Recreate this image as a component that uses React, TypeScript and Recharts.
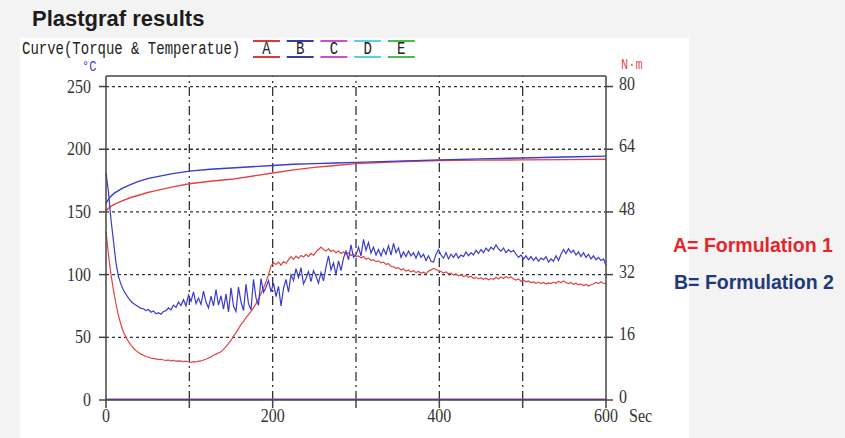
import React from 'react';
import { LineChart, Line, XAxis, YAxis, ReferenceLine } from 'recharts';

// temperature curves (°C, left axis)
const tempTime = [0, 5, 10, 20, 30, 40, 50, 60, 80, 100, 125, 150, 175, 200, 225, 250, 275, 300, 350, 400, 450, 500, 550, 600];
const tempA = [151, 154, 156, 159, 161.5, 163.5, 165.5, 167, 170, 172.5, 174.5, 176, 178.5, 181, 183.5, 185.5, 187, 188.5, 190, 191, 191.3, 191.5, 191.7, 192];
const tempB = [157, 162, 165, 169, 172, 174.5, 176.5, 178, 180.5, 182.5, 184, 185, 186, 187, 188, 188.5, 189, 189.5, 190.5, 191.5, 192.3, 193, 193.8, 194.5];

// torque curves (N·m, right axis), one reading every 3 s
const TORQUE_STEP = 3;
const torqueA = [
  43, 37, 32, 28, 24.5, 21.5, 19.2, 17.3, 16.0, 14.9,
  14.0, 13.2, 12.6, 12.1, 11.7, 11.4, 11.1, 10.9, 10.7, 10.6,
  10.5, 10.3, 10.4, 10.2, 10.1, 10.2, 10.0, 10.1, 9.9, 10.0,
  9.9, 9.8, 9.9, 9.7, 9.6, 9.8, 9.7, 9.9, 10.0, 10.2,
  10.4, 10.7, 11.0, 11.4, 11.7, 12.0, 12.3, 12.9, 13.6, 14.4,
  15.2, 16.3, 17.2, 18.2, 19.3, 20.0, 21.0, 21.8, 22.6, 23.5,
  24.6, 25.8, 27.2, 28.6, 30.2, 32.0, 34.2, 35.0, 34.6, 35.2,
  34.4, 35.3, 34.9, 35.8, 36.6, 35.9, 36.7, 36.2, 36.9, 36.5,
  37.2, 36.6, 37.4, 36.9, 37.8, 38.4, 39.0, 38.4, 38.0, 38.6,
  37.9, 38.2, 37.6, 38.0, 37.4, 37.8, 37.2, 37.6, 36.9, 37.2,
  36.6, 36.8, 36.3, 36.6, 35.9, 36.2, 35.6, 35.8, 35.3, 35.5,
  35.0, 35.2, 34.6, 34.8, 34.1, 34.0, 33.6, 33.8, 33.2, 33.5,
  32.9, 33.2, 32.7, 33.0, 32.5, 32.8, 32.4, 32.6, 32.2, 32.9,
  33.2, 33.6, 33.3, 33.0, 32.8, 32.4, 32.7, 32.2, 32.4, 31.9,
  32.2, 31.7, 32.0, 31.5, 31.8, 31.3, 31.6, 31.0, 31.3, 30.9,
  31.2, 30.8, 31.1, 30.7, 31.0, 30.8, 31.3, 30.9, 31.4, 31.0,
  31.5, 31.1, 31.4, 30.9, 30.6, 30.9, 30.3, 30.6, 30.1, 30.4,
  29.9, 30.2, 29.8, 30.1, 29.7, 30.0, 29.6, 29.9, 29.7, 30.1,
  29.8, 30.3, 29.9, 30.4, 30.0, 29.7, 30.0, 29.5, 29.8, 29.4,
  29.6, 29.2, 29.5, 29.1, 29.4, 29.6, 30.0, 29.7, 30.2, 29.8,
  29.7,
];
const torqueB = [
  58, 53, 46, 40.5, 35, 31.5, 29.5, 28, 27, 26,
  25.2, 24.6, 24.2, 23.8, 23.4, 23.3, 22.8, 23.1, 22.4, 22.7,
  22.0, 22.3, 21.9, 22.6, 22.8, 23.5, 23.0, 24.2, 23.6, 25.0,
  24.1, 25.6, 24.0, 26.8, 25.2, 27.6, 24.6, 26.0, 24.4, 27.8,
  25.0, 23.5, 26.5, 24.0, 28.2, 24.2, 26.6, 23.2, 27.0, 22.5,
  28.6, 24.0, 22.6, 28.8, 25.0, 22.8, 29.5, 24.6, 23.0, 30.8,
  26.0, 24.2, 31.0, 27.5, 28.8, 30.5, 27.6, 29.8, 26.4, 29.0,
  24.0, 28.5, 30.8, 27.5, 32.0, 30.5, 33.5, 31.2, 33.8, 29.6,
  31.0, 32.8, 30.2, 33.0, 31.6, 29.8, 32.5, 30.4, 34.0, 36.8,
  33.2, 35.0, 32.0, 35.5, 33.0, 36.2, 38.0, 35.8, 39.6, 36.4,
  37.0, 39.0, 36.8, 41.0, 38.2, 40.2, 37.5, 39.0, 37.0, 38.4,
  36.8, 38.6, 37.2, 39.4, 37.0, 40.0, 37.6, 38.8, 36.4, 37.8,
  36.6, 38.0, 36.8, 37.6, 36.2, 37.8, 36.4, 37.2, 35.6, 36.8,
  35.4, 35.2, 37.2, 38.4, 37.0, 36.2, 37.6, 36.0, 37.2, 36.4,
  37.4, 36.2, 37.0, 36.6, 37.8, 36.8, 37.6, 37.0, 38.2, 37.4,
  38.4, 37.6, 38.8, 38.0, 39.0, 38.4, 39.6, 38.6, 38.0, 38.8,
  37.6, 38.4, 37.8, 38.2, 37.2, 36.4, 37.0, 36.0, 36.8, 35.8,
  36.6, 35.6, 36.4, 35.4, 36.2, 35.8, 36.6, 35.2, 36.0, 35.4,
  36.8, 35.6, 37.2, 38.4, 37.4, 38.6, 37.6, 38.2, 37.0, 37.8,
  36.6, 37.6, 36.4, 37.2, 36.0, 36.8, 35.8, 36.4, 35.6, 36.0,
  34.4,
];

// curve C sits flat on zero
const curveCTime = [0, 600];
const curveC = [0, 0];

const xTicks = [0, 100, 200, 300, 400, 500, 600];
const tempTicks = [0, 50, 100, 150, 200, 250];
const torqueTicks = [0, 16, 32, 48, 64, 80];
const legendKeys = ['A', 'B', 'C', 'D', 'E'];
const legendColors = ['#d83a3a', '#3a3aa8', '#cc4fcc', '#5ccfe0', '#4cbb4c'];

const TEMP_MAX = 258.4;
const TORQUE_MAX = (TEMP_MAX * 80) / 250;

const RED = '#e04444';
const BLUE = '#3a3ad0';
const INK = '#333';
const MONO = '"Liberation Mono", monospace';
const SERIF = '"Liberation Serif", serif';

const tempRowsA = tempTime.map((t, i) => ({ t, v: tempA[i] }));
const tempRowsB = tempTime.map((t, i) => ({ t, v: tempB[i] }));
const torqueRowsA = torqueA.map((v, i) => ({ t: i * TORQUE_STEP, v }));
const torqueRowsB = torqueB.map((v, i) => ({ t: i * TORQUE_STEP, v }));
const curveCRows = curveCTime.map((t, i) => ({ t, v: curveC[i] }));

// tall, narrow digits like the instrument print-out
function tickText(value: string, x: number, y: number, anchor: 'start' | 'middle' | 'end') {
  return (
    <text
      transform={`translate(${x},${y}) scale(1,1.22)`}
      x={0}
      y={0}
      textAnchor={anchor}
      fontFamily={SERIF}
      fontSize={16}
      fill={INK}
    >
      {value}
    </text>
  );
}

const LeftTick = (props: any) => tickText(String(props.payload.value), props.x - 6, props.y + 6, 'end');
const RightTick = (props: any) => tickText(String(props.payload.value), props.x + 4, props.y + 3, 'start');
const BottomTick = (props: any) => {
  const v = props.payload.value;
  if (v % 200 !== 0) return <g />;
  return tickText(String(v), props.x, props.y + 12, 'middle');
};

export default function App() {
  return (
    <div style={{ position: 'absolute', left: 0, top: 0, width: 845, height: 438, background: '#f3f3f3', overflow: 'hidden' }}>
      <div style={{ position: 'absolute', left: 20, top: 38, width: 669, height: 400, background: '#fff' }} />
      <div
        style={{
          position: 'absolute',
          left: 32,
          top: 6,
          fontFamily: '"Liberation Sans", Arial, sans-serif',
          fontWeight: 700,
          fontSize: 22,
          color: '#1c1c1c',
        }}
      >
        Plastgraf results
      </div>

      <div style={{ position: 'absolute', left: 0, top: 0 }}>
        <LineChart width={845} height={438} margin={{ top: 76, right: 189, bottom: 7, left: 46 }}>
          <XAxis
            dataKey="t"
            type="number"
            domain={[0, 600]}
            ticks={xTicks}
            tick={BottomTick}
            tickSize={8}
            height={31}
            stroke="#444"
            strokeWidth={1.5}
            allowDuplicatedCategory={false}
          />
          <YAxis
            yAxisId="left"
            domain={[0, TEMP_MAX]}
            ticks={tempTicks}
            tick={LeftTick}
            tickSize={7}
            width={60}
            stroke="#444"
            strokeWidth={1.5}
            allowDataOverflow
          />
          <YAxis
            yAxisId="right"
            orientation="right"
            domain={[0, TORQUE_MAX]}
            ticks={torqueTicks}
            tick={RightTick}
            tickSize={7}
            width={50}
            stroke="#444"
            strokeWidth={1.5}
            allowDataOverflow
          />
          {tempTicks.slice(1).map((v) => (
            <ReferenceLine key={'h' + v} yAxisId="left" y={v} stroke={INK} strokeWidth={1.3} strokeDasharray="3 3" />
          ))}
          {xTicks.slice(1, -1).map((v) => (
            <ReferenceLine key={'v' + v} yAxisId="left" x={v} stroke={INK} strokeWidth={1.3} strokeDasharray="9 4 2 4" />
          ))}
          <ReferenceLine yAxisId="left" y={TEMP_MAX} stroke="#444" strokeWidth={1.5} />

          <Line yAxisId="left" data={tempRowsA} dataKey="v" name="A temp" stroke={RED} strokeWidth={1.4} dot={false} activeDot={false} isAnimationActive={false} />
          <Line yAxisId="left" data={tempRowsB} dataKey="v" name="B temp" stroke={BLUE} strokeWidth={1.4} dot={false} activeDot={false} isAnimationActive={false} />
          <Line yAxisId="right" data={torqueRowsA} dataKey="v" name="A torque" stroke={RED} strokeWidth={1.2} dot={false} activeDot={false} isAnimationActive={false} />
          <Line yAxisId="right" data={torqueRowsB} dataKey="v" name="B torque" stroke={BLUE} strokeWidth={1.2} dot={false} activeDot={false} isAnimationActive={false} />
          <Line yAxisId="right" data={curveCRows} dataKey="v" name="C" stroke="#9a3db3" strokeWidth={3} dot={false} activeDot={false} isAnimationActive={false} />
        </LineChart>
      </div>

      <svg width={845} height={438} style={{ position: 'absolute', left: 0, top: 0, pointerEvents: 'none' }}>
        <text transform="translate(22,54) scale(1,1.25)" x={0} y={0} fontFamily={MONO} fontSize={14} fill="#222">
          Curve(Torque &amp; Temperatue)
        </text>
        {legendKeys.map((k, i) => {
          const x0 = 253 + i * 33.7;
          return (
            <g key={k}>
              <line x1={x0} x2={x0 + 27} y1={41} y2={41} stroke={legendColors[i]} strokeWidth={2} />
              <line x1={x0} x2={x0 + 27} y1={57} y2={57} stroke={legendColors[i]} strokeWidth={2} />
              <text transform={`translate(${x0 + 13.5},54) scale(1,1.25)`} x={0} y={0} textAnchor="middle" fontFamily={MONO} fontSize={14} fill="#222">
                {k}
              </text>
            </g>
          );
        })}
        <text transform="translate(82,71) scale(1,1.2)" x={0} y={0} fontFamily={MONO} fontSize={12} fill="#3a3ad0">
          °C
        </text>
        <text transform="translate(621,69) scale(1,1.2)" x={0} y={0} fontFamily={MONO} fontSize={12} fill="#e05050">
          N·m
        </text>
        <text transform="translate(629,422) scale(1,1.22)" x={0} y={0} fontFamily={SERIF} fontSize={16} fill={INK}>
          Sec
        </text>
      </svg>

      <div
        style={{
          position: 'absolute',
          left: 673,
          top: 234,
          fontFamily: '"Liberation Sans", Arial, sans-serif',
          fontWeight: 700,
          fontSize: 19.5,
          color: '#e4262b',
          whiteSpace: 'nowrap',
        }}
      >
        A= Formulation 1
      </div>
      <div
        style={{
          position: 'absolute',
          left: 674,
          top: 271,
          fontFamily: '"Liberation Sans", Arial, sans-serif',
          fontWeight: 700,
          fontSize: 19.5,
          color: '#1f3a78',
          whiteSpace: 'nowrap',
        }}
      >
        B= Formulation 2
      </div>
    </div>
  );
}
